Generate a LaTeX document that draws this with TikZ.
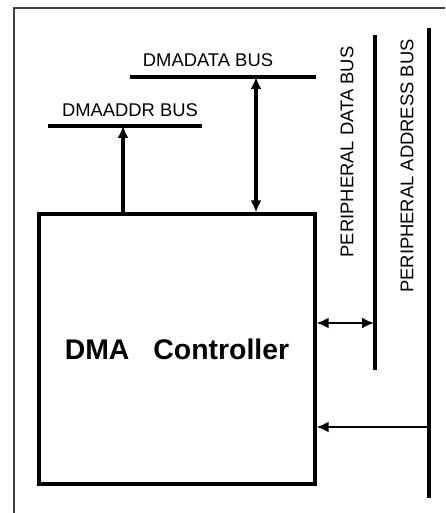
\documentclass[tikz,border=0pt]{standalone}
\usepackage{fontspec}
\setmainfont{Liberation Sans}
\usetikzlibrary{arrows.meta}

\begin{document}
\begin{tikzpicture}[
            x=0.5pt, y=-0.5pt,
            frame/.style={line width=0.8pt, draw=black!75},
            bus/.style={line width=1.8pt},
            buslabel/.style={inner sep=0pt, font=\fontsize{9.2}{11}\selectfont},
            uplink/.style={line width=1.6pt, -{Latex[length=6pt,width=5.5pt]}},
            bothlink/.style={line width=1.6pt, {Latex[length=6pt,width=5.5pt]}-{Latex[length=6pt,width=5.5pt]}},
            sidelink/.style={line width=1.1pt, {Latex[length=6pt,width=5.5pt]}-{Latex[length=6pt,width=5.5pt]}},
            inlink/.style={line width=1.1pt, -{Latex[length=6pt,width=5.5pt]}}
        ]
        \useasboundingbox (0,0) rectangle (445,513);
        \draw[frame] (445,8) -- (14,8) -- (14,513);

        \node[draw, line width=1.6pt, minimum width=138pt, minimum height=135pt,
            font=\bfseries\fontsize{14.2}{16}\selectfont] (ctrl) at (177,349) {DMA\hspace{12pt}Controller};

        \coordinate (addrL) at (48,126);
        \coordinate (addrR) at (202,126);
        \coordinate (addrtap) at (123,126);
        \coordinate (dataL) at (130,77);
        \coordinate (dataR) at (316,77);
        \coordinate (datatap) at (256,77);
        \draw[bus] (addrL) -- (addrR);
        \draw[bus] (dataL) -- (dataR);
        \node[buslabel] (addrlbl) at (130,110) {DMAADDR BUS};
        \node[buslabel] (datalbl) at (208,60) {DMADATA BUS};

        \coordinate (pdtop) at (375,35);
        \coordinate (pdbot) at (375,370);
        \coordinate (patop) at (429,28);
        \coordinate (pabot) at (429,498);
        \draw[bus] (pdtop) -- (pdbot);
        \draw[bus] (patop) -- (pabot);
        \node[buslabel, rotate=90] (pdlbl) at (347,152) {PERIPHERAL DATA BUS};
        \node[buslabel, rotate=90] (palbl) at (407,166) {PERIPHERAL ADDRESS BUS};

        \coordinate (pdtap) at (374,323);
        \coordinate (patap) at (429,427);

        \draw[uplink] (ctrl.north -| addrtap) -- (addrtap);
        \draw[bothlink] (ctrl.north -| datatap) -- (datatap);
        \draw[sidelink] (ctrl.east |- pdtap) -- (pdtap);
        \draw[inlink] (patap) -- (ctrl.east |- patap);
    \end{tikzpicture}
\end{document}
